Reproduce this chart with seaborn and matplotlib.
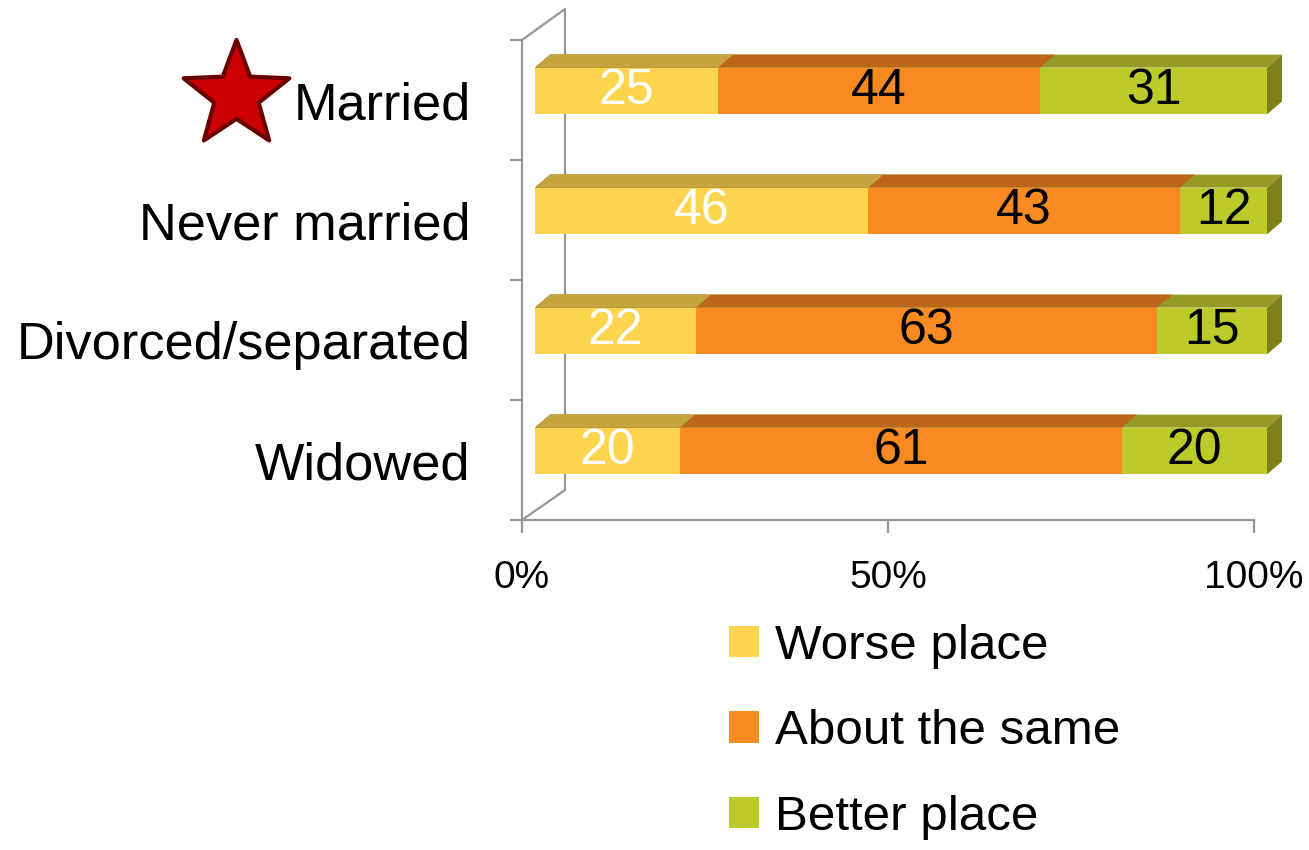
import numpy as np
import pandas as pd
import matplotlib
matplotlib.use("Agg")
import matplotlib.pyplot as plt
import seaborn as sns
from matplotlib.patches import Polygon, Patch
from matplotlib.path import Path

# ---------------- data ----------------
categories = ["Married", "Never married", "Divorced/separated", "Widowed"]
worse = [25, 46, 22, 20]
same = [44, 43, 63, 61]
better = [31, 12, 15, 20]
series_names = ["Worse place", "About the same", "Better place"]
xticks = [0, 50, 100]
xtick_labels = ["0%", "50%", "100%"]

# ---------------- style ----------------
front_cols = ["#FDD44E", "#F78A21", "#BDCB2A"]
top_cols = ["#C4A43C", "#BB6618", "#959B22"]
side_col = "#7C811C"
label_cols = ["white", "black", "black"]
grey = "#969696"

sns.set_theme(style="white")
plt.rcParams["font.family"] = ["Liberation Sans", "DejaVu Sans"]
plt.rcParams["text.color"] = "black"

df = pd.DataFrame({"category": categories, "worse": worse, "same": same, "better": better})
tot = df[["worse", "same", "better"]].sum(axis=1)
df["c1"] = df["worse"] / tot * 100
df["c2"] = (df["worse"] + df["same"]) / tot * 100
df["c3"] = (df["worse"] + df["same"] + df["better"]) / tot * 100

FW, FH = 1309, 850
fig = plt.figure(figsize=(FW / 100, FH / 100), dpi=100)
ax_l, ax_t, ax_w, ax_h = 522, 40, 732, 480
ax = fig.add_axes([ax_l / FW, 1 - (ax_t + ax_h) / FH, ax_w / FW, ax_h / FH])

BAR_H = 0.39
for col, fc in [("c3", front_cols[2]), ("c2", front_cols[1]), ("c1", front_cols[0])]:
    sns.barplot(data=df, x=col, y="category", color=fc, width=BAR_H, orient="h",
                ax=ax, saturation=1, linewidth=0, zorder=3)

ax.set_xlim(0, 100)
ax.set_ylim(len(categories) - 0.5, -0.5)

# pixel -> data conversions
sx = ax_w / 100.0
sy = ax_h / len(categories)
front_dx, front_dy = 13 / sx, -9 / sy
depth_dx, depth_dy = 15 / sx, -13 / sy

patches = list(ax.patches)
n = len(categories)
face_sets = [(patches[0:n], 2), (patches[n:2 * n], 1), (patches[2 * n:3 * n], 0)]
for plist, si in face_sets:
    for p in plist:
        p.set_x(p.get_x() + front_dx)
        p.set_y(p.get_y() + front_dy)
        p.set_clip_on(False)
        x0, y0, w, h = p.get_x(), p.get_y(), p.get_width(), p.get_height()
        top = Polygon([(x0, y0), (x0 + w, y0), (x0 + w + depth_dx, y0 + depth_dy),
                       (x0 + depth_dx, y0 + depth_dy)], closed=True,
                      facecolor=top_cols[si], edgecolor="none", zorder=3, clip_on=False)
        ax.add_patch(top)
        if si == 2:
            x1 = x0 + w
            side = Polygon([(x1, y0), (x1 + depth_dx, y0 + depth_dy),
                            (x1 + depth_dx, y0 + h + depth_dy), (x1, y0 + h)], closed=True,
                           facecolor=side_col, edgecolor="none", zorder=3, clip_on=False)
            ax.add_patch(side)

# value labels
for i in range(n):
    starts = [0, df["c1"][i], df["c2"][i]]
    ends = [df["c1"][i], df["c2"][i], df["c3"][i]]
    vals = [worse[i], same[i], better[i]]
    for s in range(3):
        ax.text((starts[s] + ends[s]) / 2 + front_dx, i + front_dy, str(vals[s]),
                ha="center", va="center", fontsize=36, color=label_cols[s], zorder=5)

# back-wall frame lines
back_dx, back_dy = 43 / sx, -31 / sy
ax.plot([0, back_dx, back_dx], [-0.5, -0.5 + back_dy, n - 0.5 - 30 / sy],
        color=grey, lw=1.6, clip_on=False, zorder=1, solid_capstyle="butt")
ax.plot([0, back_dx], [n - 0.5, n - 0.5 - 30 / sy],
        color=grey, lw=1.6, clip_on=False, zorder=1)

# axes styling
for sp in ["top", "right"]:
    ax.spines[sp].set_visible(False)
for sp in ["left", "bottom"]:
    ax.spines[sp].set_color(grey)
    ax.spines[sp].set_linewidth(1.6)
ax.set_xticks(xticks)
ax.set_xticklabels(xtick_labels)
ax.set_yticks(np.arange(-0.5, n, 1.0), minor=True)
ax.tick_params(axis="x", which="major", bottom=True, length=9.5, width=1.6, color=grey,
               direction="out", pad=19, labelsize=28, labelcolor="black")
ax.tick_params(axis="y", which="major", left=True, length=0, pad=37, labelsize=37.7,
               labelcolor="black")
ax.tick_params(axis="y", which="minor", left=True, length=8.6, width=1.6, color=grey,
               direction="out")
ax.set_xlabel("")
ax.set_ylabel("")

# star decoration next to "Married"
star = Path.unit_regular_star(5, 0.42)
fig.add_artist(plt.Line2D([236 / FW], [1 - 95 / FH], marker=star, markersize=80,
                          markerfacecolor="#CC0000", markeredgecolor="#6B0000",
                          markeredgewidth=3, linestyle="none", transform=fig.transFigure))

# legend
handles = [Patch(facecolor=c, edgecolor="none") for c in front_cols]
fig.legend(handles, series_names, loc="upper left", bbox_to_anchor=(729 / FW, 1 - 624 / FH),
           frameon=False, fontsize=35.5, handlelength=0.6, handleheight=0.6,
           handletextpad=0.33, labelspacing=0.82, borderpad=0, borderaxespad=0,
           labelcolor="black")

fig.savefig("out.png", dpi=100, facecolor="white")
